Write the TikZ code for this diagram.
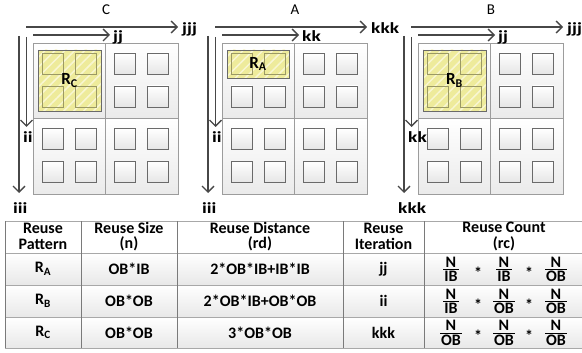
\documentclass[tikz,border=0pt]{standalone}
\usepackage{fontspec}
\setmainfont{Carlito}
\newfontfamily\idxfont[FakeStretch=1.25]{Carlito}
\usetikzlibrary{arrows.meta,patterns.meta}

\definecolor{hl}{HTML}{EEEB9B}
\definecolor{hatch}{HTML}{F8F6D2}
\definecolor{frame}{HTML}{9C9C9C}
\definecolor{boxline}{HTML}{6A6A6A}
\definecolor{arr}{HTML}{474747}
\definecolor{hline}{HTML}{A8A8A8}
\definecolor{vline}{HTML}{7A7A7A}

\tikzset{
  quad/.style={draw=frame, line width=0.8pt, top color=white, bottom color=black!8,
    minimum width=72.5pt, minimum height=75.5pt, inner sep=0pt, outer sep=0pt},
  cell/.style={draw=boxline, line width=0.7pt, top color=white, bottom color=black!10,
    minimum size=21pt, inner sep=0pt},
  hlcell/.style={draw=black!35!hl, line width=0.6pt, minimum size=21pt, inner sep=0pt},
  hlbox/.style={draw=boxline, line width=0.8pt, inner sep=0pt, preaction={fill=hl},
    pattern={Lines[angle=45,distance=7pt,line width=1.5pt]}, pattern color=hatch},
  loopline/.style={draw=arr, line width=1.3pt,
    -{Straight Barb[length=6pt,width=12pt,line width=1.3pt]}},
  idx/.style={font=\idxfont\bfseries\fontsize{15.5}{15.5}\selectfont, inner sep=0pt,
    text height=10pt, text depth=3pt},
  ttl/.style={font=\fontsize{15}{15}\selectfont, inner sep=0pt},
  rlabel/.style={font=\bfseries\fontsize{17}{17}\selectfont, inner sep=0pt},
  tcell/.style={font=\bfseries\fontsize{16}{15.5}\selectfont, inner sep=0pt, align=center},
  rowfill/.style={top color=white, bottom color=black!9, draw=none},
}

% one loop-nest panel: #1 name, #2 left edge, #3 rows in reuse block,
% #4 title, #5 outer horizontal index, #6 inner horizontal index,
% #7 inner vertical index, #8 outer vertical index, #9 reuse subscript
\newcommand\panel[9]{%
\begin{scope}[shift={(#2,0)}]
  \node[quad] (#1-q11) at (36.25,80.75) {};
  \node[quad] (#1-q21) at (108.75,80.75) {};
  \node[quad] (#1-q12) at (36.25,156.25) {};
  \node[quad] (#1-q22) at (108.75,156.25) {};
  \foreach \cx/\cy/\q in {108.75/80/21,36.25/155.5/12,108.75/155.5/22}
    \foreach \dx/\dy/\s in {-16.5/-16.5/a,16.5/-16.5/b,-16.5/16.5/c,16.5/16.5/d}
      \node[cell] (#1-s\q\s) at ({\cx+\dx},{\cy+\dy}) {};
  \ifnum#3=2
    \node[hlbox, minimum width=63pt, minimum height=61pt] (#1-reuse) at (36.5,80.5) {};
    \node[hlcell] (#1-s11a) at (19.75,63.5) {};
    \node[hlcell] (#1-s11b) at (52.75,63.5) {};
    \node[hlcell] (#1-s11c) at (19.75,96.5) {};
    \node[hlcell] (#1-s11d) at (52.75,96.5) {};
  \else
    \node[cell] (#1-s11c) at (19.75,96.5) {};
    \node[cell] (#1-s11d) at (52.75,96.5) {};
    \node[hlbox, minimum width=62pt, minimum height=28pt] (#1-reuse) at (36,64) {};
    \node[hlcell] (#1-s11a) at (19.75,63.5) {};
    \node[hlcell] (#1-s11b) at (52.75,63.5) {};
  \fi
  \node[rlabel] (#1-rl) at (#1-reuse.center) {R\textsubscript{#9}};
  % loop arrows
  \coordinate (#1-hs) at (-7,27);   \coordinate (#1-he) at (145,27);
  \coordinate (#1-ks) at (0,35);    \coordinate (#1-ke) at (77,35);
  \coordinate (#1-vs) at (-14,36);  \coordinate (#1-ve) at (-14,193);
  \coordinate (#1-us) at (-6.5,37); \coordinate (#1-ue) at (-6.5,127);
  \draw[loopline] (#1-hs) -- (#1-he);
  \draw[loopline] (#1-ks) -- (#1-ke);
  \draw[loopline] (#1-vs) -- (#1-ve);
  \draw[loopline] (#1-us) -- (#1-ue);
  \node[idx, anchor=west] (#1-i5) at (149,30) {#5};
  \node[idx, anchor=west] (#1-i6) at (80,38) {#6};
  \node[idx, anchor=west] (#1-i7) at (-10,139) {#7};
  \node[idx, anchor=west] (#1-i8) at (-20,210.5) {#8};
  \node[ttl] (#1-title) at (73,10) {#4};
\end{scope}}

% stacked fraction for the reuse-count column
\newcommand\frc[2]{{\renewcommand\arraystretch{0.5}\setlength\arrayrulewidth{1pt}%
  \begin{tabular}{@{\hspace{1pt}}c@{\hspace{1pt}}}#1\\\hline\rule{0pt}{11.5pt}#2\end{tabular}}}

\begin{document}
\begin{tikzpicture}[x=1pt,y=-1pt]
  \useasboundingbox (0,0) rectangle (582,353);

  \panel{C}{33}{2}{C}{jjj}{jj}{ii}{iii}{C}
  \panel{A}{222}{1}{A}{kkk}{kk}{ii}{iii}{A}
  \panel{B}{418}{2}{B}{jjj}{jj}{kk}{kkk}{B}

  % table body
  \fill[rowfill] (5,253) rectangle (582,285);
  \fill[rowfill] (5,285) rectangle (582,317);
  \fill[rowfill] (5,317) rectangle (582,348);
  \foreach \y in {221,253,285,317,348}
    \draw[hline, line width=0.9pt] (5,\y) -- (582,\y);
  \foreach \x in {5,81,177,343,424}
    \draw[vline, line width=0.9pt] (\x,221) -- (\x,348);

  % header
  \node[tcell] (h1) at (43,236.5) {Reuse\\Pattern};
  \node[tcell] (h2) at (129,236.5) {Reuse Size\\(n)};
  \node[tcell] (h3) at (260,236.5) {Reuse Distance\\(rd)};
  \node[tcell] (h4) at (383.5,236.5) {Reuse\\Iteration};
  \node[tcell] (h5) at (504,236.5) {Reuse Count\\(rc)};

  % rows
  \foreach \r/\y/\p/\n/\d/\it in {
      1/269/A/OB*IB/2*OB*IB+IB*IB/jj,
      2/301/B/OB*OB/2*OB*IB+OB*OB/ii,
      3/332.5/C/OB*OB/3*OB*OB/kkk}{
    \node[tcell] (p\r) at (43,\y) {R\textsubscript{\p}};
    \node[tcell] (n\r) at (129,\y) {\n};
    \node[tcell] (d\r) at (260,\y) {\d};
    \node[tcell] (t\r) at (383.5,\y) {\it};
    \node[tcell, anchor=base] (sa\r) at (478,{\y+9}) {*};
    \node[tcell, anchor=base] (sb\r) at (529,{\y+9}) {*};
  }
  \node[tcell] (f11) at (451,270.5) {\frc{N}{IB}};
  \node[tcell] (f12) at (504,270.5) {\frc{N}{IB}};
  \node[tcell] (f13) at (556,270.5) {\frc{N}{OB}};
  \node[tcell] (f21) at (451,302.5) {\frc{N}{IB}};
  \node[tcell] (f22) at (504,302.5) {\frc{N}{OB}};
  \node[tcell] (f23) at (556,302.5) {\frc{N}{OB}};
  \node[tcell] (f31) at (451,334) {\frc{N}{OB}};
  \node[tcell] (f32) at (504,334) {\frc{N}{OB}};
  \node[tcell] (f33) at (556,334) {\frc{N}{OB}};
\end{tikzpicture}
\end{document}
